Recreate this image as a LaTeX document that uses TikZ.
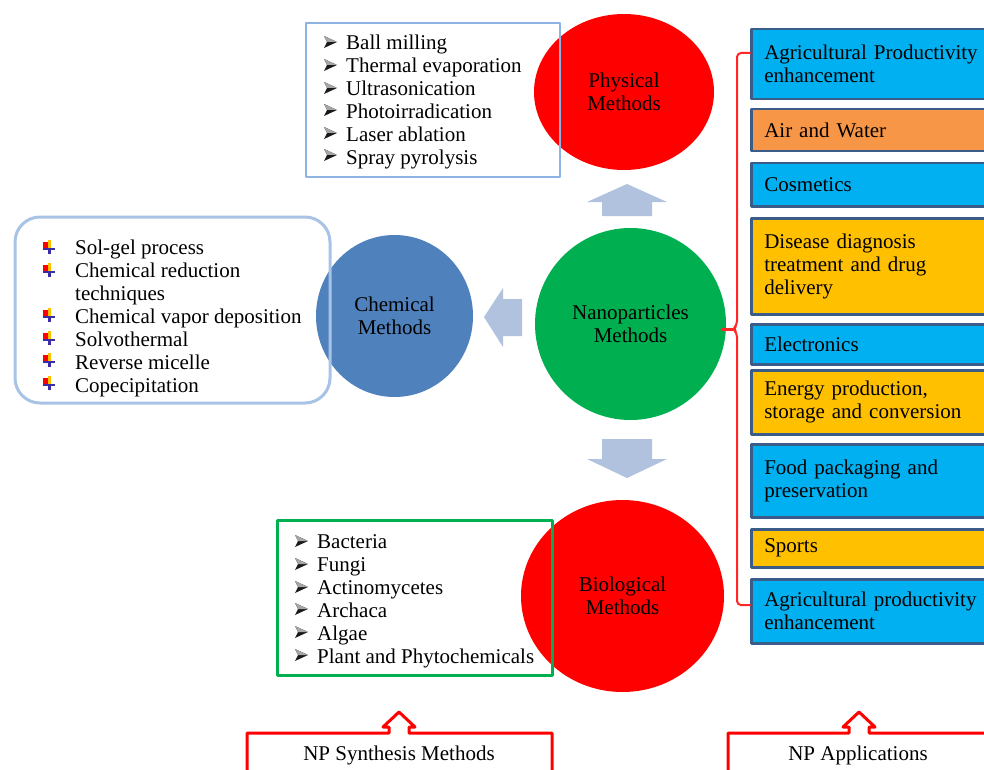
\documentclass[tikz,border=0pt]{standalone}
\usepackage{fontspec}
\setmainfont{Liberation Serif}
\usetikzlibrary{shapes.geometric}
\definecolor{npred}{HTML}{FF0000}
\definecolor{npgreen}{HTML}{00B050}
\definecolor{npchem}{HTML}{4F81BD}
\definecolor{nparrow}{HTML}{B0C2DE}
\definecolor{npcyan}{HTML}{00B0F0}
\definecolor{nporange}{HTML}{F79646}
\definecolor{npgold}{HTML}{FFC000}
\definecolor{npedge}{HTML}{3A5C88}
\definecolor{npsky}{HTML}{8DB4E2}
\definecolor{npsoft}{HTML}{A8C3E6}
\definecolor{npink}{HTML}{1A1A1A}
\definecolor{npviolet}{HTML}{3A2DA8}
\newcommand{\npfont}{\fontsize{21}{23}\selectfont}
\newcommand{\arrbullet}[2]{%
  \fill[npink] (#1-6,#2-6) -- (#1+7,#2) -- (#1-6,#2+6) -- (#1-3,#2) -- cycle;
  \fill[gray!70] (#1-6,#2-6) -- (#1+7,#2) -- (#1-3,#2) -- cycle;
}
\newcommand{\quadbullet}[2]{%
  \fill[npred] (#1-6,#2-5) rectangle (#1,#2+1);
  \fill[npgold] (#1-1,#2-7) rectangle (#1+2,#2+1);
  \fill[npviolet] (#1-6,#2+1) rectangle (#1+6,#2+3);
  \fill[npviolet] (#1-1,#2+3) rectangle (#1+2,#2+7);
}
\newcommand{\appbox}[5]{%
  \node[appbox,fill=#4,minimum height=#3pt] (#1) at (750,#2) {#5};
}
\tikzset{
  method/.style={ellipse,inner sep=0pt,align=center,font=\npfont},
  itemlist/.style={anchor=west,align=left,font=\npfont,inner sep=0pt},
  appbox/.style={anchor=north west,draw=npedge,line width=2.5pt,
    text width=220pt,inner xsep=13pt,align=left,font=\npfont},
  npbrace/.style={draw=npred!85!white,line width=2pt,rounded corners=4pt},
  callout/.style={draw=npred,line width=3pt,line join=round}
}

\begin{document}
\begin{tikzpicture}[x=1pt,y=-1pt,line cap=round,line join=round]
\useasboundingbox (0,0) rectangle (984,770);
\fill[white] (0,0) rectangle (984,770);

% Physical methods.
\node[method,fill=npred,minimum width=180pt,minimum height=156pt]
  (physical) at (624,92) {Physical\\Methods};
\draw[draw=npsky,line width=2.5pt] (306,23) rectangle (560,177);
\node[itemlist] (physlist) at (346,101.5)
  {Ball milling\\Thermal evaporation\\Ultrasonication\\Photoirradication\\
   Laser ablation\\Spray pyrolysis};
\arrbullet{330}{42}
\arrbullet{330}{65}
\arrbullet{330}{88}
\arrbullet{330}{110}
\arrbullet{330}{133}
\arrbullet{330}{155}

% Nanoparticles and the block arrows.
\node[method,fill=npgreen,minimum width=191pt,minimum height=192pt]
  (nano) at (630.5,324) {Nanoparticles\\Methods};
\fill[nparrow] (602,216) -- (602,202) -- (587,202) -- (627,184)
  -- (667,202) -- (652,202) -- (652,216) -- cycle;
\fill[nparrow] (522,299) -- (503,299) -- (503,288) -- (484,317)
  -- (503,347) -- (503,336) -- (522,336) -- cycle;
\fill[nparrow] (602,439) -- (652,439) -- (652,459) -- (667,459)
  -- (627,478) -- (587,459) -- (602,459) -- cycle;

% Chemical methods.
\node[method,fill=npchem,minimum width=157pt,minimum height=162pt]
  (chemical) at (394.5,316) {Chemical\\Methods};
\draw[draw=npsoft,line width=3pt,rounded corners=25pt]
  (15,217) rectangle (330,403);
\node[itemlist] (chemlist) at (75,318)
  {Sol-gel process\\Chemical reduction\\techniques\\Chemical vapor deposition\\
   Solvothermal\\Reverse micelle\\Copecipitation};
\quadbullet{49}{247}
\quadbullet{49}{270}
\quadbullet{49}{315}
\quadbullet{49}{338}
\quadbullet{49}{360}
\quadbullet{49}{383}

% Biological methods.
\node[method,fill=npred,minimum width=203pt,minimum height=192pt]
  (biological) at (622.5,596) {Biological\\Methods};
\draw[draw=npgreen,line width=3pt] (277,520) rectangle (552,675);
\node[itemlist] (biolist) at (317,601)
  {Bacteria\\Fungi\\Actinomycetes\\Archaca\\Algae\\Plant and Phytochemicals};
\arrbullet{301}{541}
\arrbullet{301}{564}
\arrbullet{301}{587}
\arrbullet{301}{609}
\arrbullet{301}{632}
\arrbullet{301}{655}

% Applications column and its brace.
\appbox{agritop}{28}{70}{npcyan}{Agricultural Productivity\\enhancement}
\appbox{airwater}{108}{42}{nporange}{Air and Water}
\appbox{cosmetics}{162}{43}{npcyan}{Cosmetics}
\appbox{disease}{217}{96}{npgold}{Disease diagnosis\\treatment and drug\\delivery}
\appbox{electronics}{323}{40}{npcyan}{Electronics}
\appbox{energy}{369}{64}{npgold}{Energy production,\\storage and conversion}
\appbox{food}{443}{73}{npcyan}{Food packaging and\\preservation}
\appbox{sports}{528}{38}{npgold}{Sports}
\appbox{agribot}{578}{64}{npcyan}{Agricultural productivity\\enhancement}
\coordinate (bracetip) at (733,329);
\draw[npbrace] (750,53) -- (737,53) -- (737,325) -- (bracetip)
  -- (737,333) -- (737,605) -- (750,605);
\draw[npbrace,line width=3pt] (bracetip) -- ([xshift=-4pt]bracetip -| nano.east);

% Captions.
\draw[callout] (247,775) -- (247,733) -- (389,733) -- (389,727) -- (383,727)
  -- (399,712) -- (415,727) -- (409,727) -- (409,733) -- (552,733) -- (552,775);
\node[font=\npfont] (synthlabel) at (399,755) {NP Synthesis Methods};
\draw[callout] (728,775) -- (728,733) -- (849,733) -- (849,727) -- (843,727)
  -- (859,712) -- (875,727) -- (869,727) -- (869,733) -- (990,733);
\node[font=\npfont] (applabel) at (858,755) {NP Applications};

\end{tikzpicture}
\end{document}
